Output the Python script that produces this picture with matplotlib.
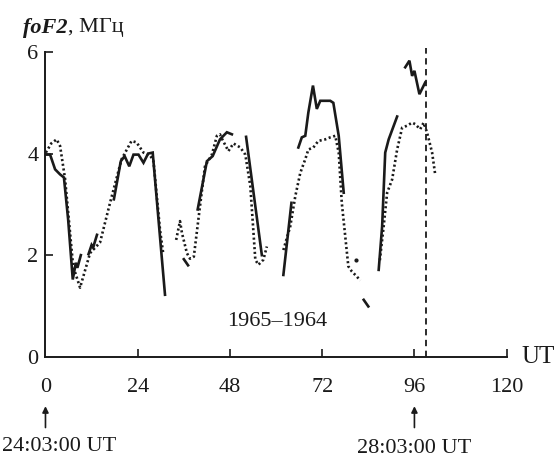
import numpy as np
import matplotlib
matplotlib.use("Agg")
import matplotlib.pyplot as plt

nan = np.nan

# solid curve (1965), NaN separates the broken pieces
x_1965 = [0.1, 1.2, 2.5, 3.8, 4.8, 5.9, 7.1, 7.9, 8.3, 9.2, nan,
          11.2, 12.0, 12.4, 13.4, nan,
          17.8, 19.6, 20.6, 21.8, 22.9, 24.2, 25.5, 26.7, 27.9, 31.1, nan,
          36.0, 37.1, nan,
          39.6, 42.0, 43.5, 45.4, 47.2, 48.5, nan,
          52.2, 56.3, nan,
          61.9, 64.0, nan,
          65.8, 66.7, 67.6, 68.4, 69.6, 70.6, 71.5, 74.1, 74.9, 76.3, 77.6, nan,
          82.8, 84.0, nan,
          86.7, 87.6, 88.4, 89.3, 91.5, nan,
          93.6, 94.7, 95.4, 96.0, 97.3, 98.8]
y_1965 = [3.98, 3.98, 3.69, 3.59, 3.53, 2.7, 1.52, 1.85, 1.75, 2.0, nan,
          2.02, 2.2, 2.15, 2.4, nan,
          3.1, 3.85, 3.95, 3.75, 3.98, 3.98, 3.82, 4.0, 4.02, 1.22, nan,
          1.92, 1.8, nan,
          2.9, 3.85, 3.95, 4.28, 4.42, 4.38, nan,
          4.33, 2.0, nan,
          1.61, 3.03, nan,
          4.12, 4.32, 4.35, 4.81, 5.34, 4.88, 5.04, 5.04, 5.0, 4.35, 3.23, nan,
          1.12, 0.99, nan,
          1.71, 2.57, 4.02, 4.28, 4.73, nan,
          5.7, 5.83, 5.53, 5.63, 5.17, 5.4]

# dotted curve (1964)
x_1964 = [0.1, 1.5, 2.9, 3.8, 5.1, 7.2, 9.0, 11.6, 14.2, 16.8, 19.8, 22.4, 23.7,
          25.5, 27.2, 28.1, 29.8, 30.6, nan,
          34.0, 35.0, 35.5, 36.8, 37.6, 38.6, 40.2, 41.5, 43.3, 44.6, 45.4, 46.0,
          47.6, 48.9, 50.7, 52.0, 53.3, 54.6, 55.4, 56.7, 57.6, nan,
          61.9, 63.7, 65.0, 66.3, 67.6, 68.4, 69.7, 71.0, 72.8, 74.1, 75.4, 76.3,
          77.1, 78.0, 78.8, 79.7, 81.0, 81.9, nan,
          87.0, 88.0, 88.9, 90.2, 91.5, 92.8, 94.1, 95.4, 96.2, 97.5, 98.4, 99.3,
          100.6, 101.4]
y_1964 = [4.02, 4.2, 4.28, 4.15, 3.5, 1.78, 1.36, 2.04, 2.25, 3.03, 3.89, 4.25, 4.22,
          4.02, 3.97, 3.85, 2.5, 2.05, nan,
          2.3, 2.67, 2.44, 2.04, 1.93, 1.97, 2.96, 3.75, 3.98, 4.35, 4.38, 4.28,
          4.05, 4.2, 4.12, 3.98, 3.36, 1.91, 1.81, 1.91, 2.17, nan,
          2.1, 2.57, 3.16, 3.62, 3.89, 4.08, 4.12, 4.25, 4.28, 4.32, 4.35, 4.02,
          3.03, 2.37, 1.78, 1.68, 1.58, 1.5, nan,
          1.9, 2.57, 3.23, 3.49, 4.08, 4.51, 4.55, 4.61, 4.58, 4.48, 4.61, 4.41,
          4.02, 3.59]
stray_x = [80.9]
stray_y = [1.91]

x_ticks = [0, 24, 48, 72, 96, 120]
y_ticks = [0, 2, 4, 6]
mark_x = 99
arrow_x = [0, 96]
arrow_labels = ["24:03:00 UT", "28:03:00 UT"]

plt.rcParams['font.family'] = ['Liberation Serif', 'DejaVu Serif']
ink = '#1a1a1a'

fig = plt.figure(figsize=(5.58, 4.57), dpi=100)
ax = fig.add_axes([0.0815, 0.2195, 0.8265, 0.6666])

ax.plot(x_1965, y_1965, color=ink, lw=1.9, solid_joinstyle='miter')
ax.plot(x_1964, y_1964, color=ink, lw=1.9, linestyle=(0, (0.8, 1.0)))
ax.plot(stray_x, stray_y, 'o', color=ink, ms=2)
ax.plot([mark_x, mark_x], [0, 6.08], color=ink, lw=1.3,
        linestyle=(0, (3.5, 2.5)), clip_on=False)

ax.text(60.3, 0.69, "1965–1964", ha='center', va='center', fontsize=16, color=ink)

ax.set_xlim(0, 120)
ax.set_ylim(0, 6)
ax.set_xticks(x_ticks)
ax.set_yticks(y_ticks)
ax.tick_params(axis='x', direction='in', length=6, width=1.2, pad=15,
               labelsize=16, colors=ink)
ax.tick_params(axis='y', direction='in', length=6, width=1.2, pad=5,
               labelsize=16, colors=ink)
ax.xaxis.get_major_ticks()[0].tick1line.set_visible(False)
ax.yaxis.get_major_ticks()[0].tick1line.set_visible(False)
for s in ['top', 'right']:
    ax.spines[s].set_visible(False)
for s in ['left', 'bottom']:
    ax.spines[s].set_linewidth(1.4)
    ax.spines[s].set_color(ink)

# axis labels
lab1 = fig.text(0.042, 0.939, "foF2", style='italic', fontweight='bold',
                fontsize=16, ha='left', va='center', color=ink)
fig.canvas.draw()
bb = lab1.get_window_extent(fig.canvas.get_renderer())
fig.text(bb.x1 / fig.bbox.width, 0.939, ", МГц", fontsize=16, ha='left',
         va='center', color=ink)
fig.text(0.935, 0.219, "UT", fontsize=18, ha='left', va='center', color=ink)

# arrows under the time axis
for xv, lab in zip(arrow_x, arrow_labels):
    ax.annotate("", xy=(xv, -0.92), xytext=(xv, -1.45),
                arrowprops=dict(arrowstyle='-|>', color=ink, lw=1.2,
                                mutation_scale=9), annotation_clip=False)
fig.text(0.004, 0.022, arrow_labels[0], ha='left', va='center', fontsize=16,
         color=ink)
ax.text(arrow_x[1], -1.8, arrow_labels[1], ha='center', va='center',
        fontsize=16, color=ink, clip_on=False)

fig.savefig("out.png", dpi=100)
